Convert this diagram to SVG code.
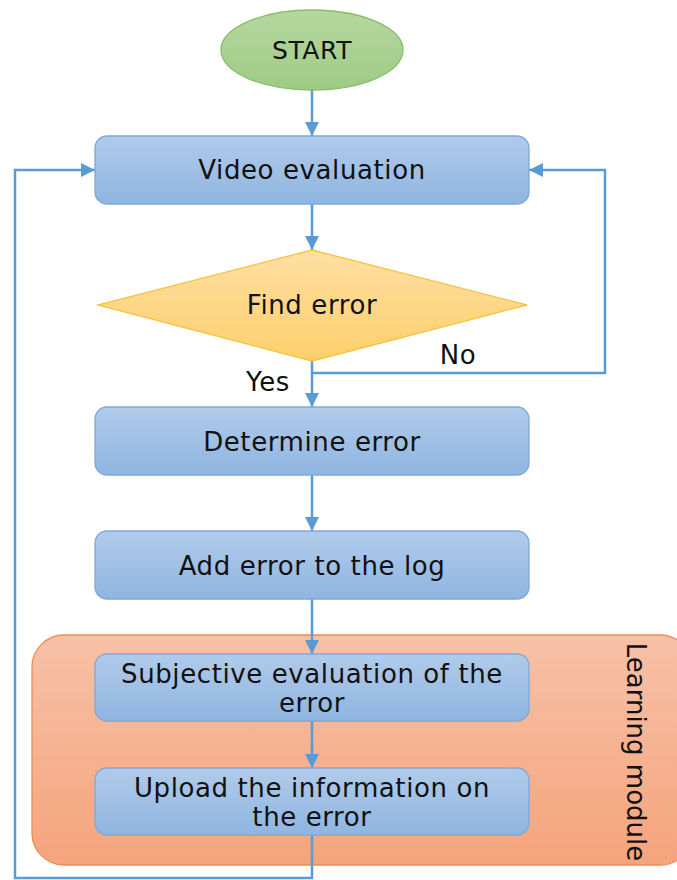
<svg xmlns="http://www.w3.org/2000/svg" width="677" height="880" viewBox="0 0 677 880">
<defs>
<linearGradient id="gBlue" x1="0" y1="0" x2="0" y2="1"><stop offset="0" stop-color="#b1cbea"/><stop offset="1" stop-color="#8fb5e1"/></linearGradient>
<linearGradient id="gGreen" x1="0" y1="0" x2="0" y2="1"><stop offset="0" stop-color="#b6d7a0"/><stop offset="1" stop-color="#9fcb84"/></linearGradient>
<linearGradient id="gYellow" x1="0" y1="0" x2="0" y2="1"><stop offset="0" stop-color="#fee0a3"/><stop offset="1" stop-color="#fdcf6c"/></linearGradient>
<linearGradient id="gOrange" x1="0" y1="0" x2="0" y2="1"><stop offset="0" stop-color="#f7c1a7"/><stop offset="1" stop-color="#f5a47c"/></linearGradient>
<marker id="arrow" viewBox="0 0 12 12" refX="12" refY="6" markerWidth="14" markerHeight="14" markerUnits="userSpaceOnUse" orient="auto"><path d="M0,0 L12,6 L0,12 z" fill="#5b9bd5"/></marker>
</defs>
<style>
.box{fill:url(#gBlue);stroke:#7ea9d8;stroke-width:1.3}
.t{font-family:"DejaVu Sans",Verdana,sans-serif;font-size:26px;letter-spacing:0.6px;fill:#111;text-anchor:middle}
.c{fill:none;stroke:#5b9bd5;stroke-width:2.5}
</style>
<rect width="677" height="880" fill="#ffffff"/>
<g id="learning-module">
<rect x="32" y="635" width="660" height="230" rx="32" fill="url(#gOrange)" stroke="#ee8c55" stroke-width="1.3"/>
<text class="t" transform="translate(627,752) rotate(90)" style="letter-spacing:0">Learning module</text>
</g>
<g id="connectors">
<line class="c" x1="312" y1="90" x2="312" y2="136" marker-end="url(#arrow)"/>
<line class="c" x1="312" y1="204" x2="312" y2="250" marker-end="url(#arrow)"/>
<line class="c" x1="312" y1="361" x2="312" y2="407" marker-end="url(#arrow)"/>
<polyline class="c" points="312,373 605,373 605,170 529,170" marker-end="url(#arrow)"/>
<line class="c" x1="312" y1="475" x2="312" y2="531" marker-end="url(#arrow)"/>
<line class="c" x1="312" y1="599" x2="312" y2="654" marker-end="url(#arrow)"/>
<line class="c" x1="312" y1="721" x2="312" y2="768" marker-end="url(#arrow)"/>
<polyline class="c" points="312,835 312,878 15,878 15,170 95,170" marker-end="url(#arrow)"/>
<text class="t" x="458" y="364">No</text>
<text class="t" x="268" y="391">Yes</text>
</g>
<g id="start">
<ellipse cx="312" cy="50" rx="91" ry="40" fill="url(#gGreen)" stroke="#86bd68" stroke-width="1.3"/>
<text class="t" x="312" y="59" style="font-size:25px">START</text>
</g>
<g id="video-evaluation">
<rect class="box" x="95" y="136" width="434" height="68" rx="12"/>
<text class="t" x="312" y="179">Video evaluation</text>
</g>
<g id="find-error">
<polygon points="312,250 527,305 312,361 98,305" fill="url(#gYellow)" stroke="#f6c242" stroke-width="1.3"/>
<text class="t" x="312" y="314">Find error</text>
</g>
<g id="determine-error">
<rect class="box" x="95" y="407" width="434" height="68" rx="12"/>
<text class="t" x="312" y="451">Determine error</text>
</g>
<g id="add-error">
<rect class="box" x="95" y="531" width="434" height="68" rx="12"/>
<text class="t" x="312" y="575">Add error to the log</text>
</g>
<g id="subjective-evaluation">
<rect class="box" x="95" y="654" width="434" height="67" rx="12"/>
<text class="t" x="312" y="683">Subjective evaluation of the</text>
<text class="t" x="312" y="712">error</text>
</g>
<g id="upload-information">
<rect class="box" x="95" y="768" width="434" height="67" rx="12"/>
<text class="t" x="312" y="797">Upload the information on</text>
<text class="t" x="312" y="826">the error</text>
</g>
</svg>
